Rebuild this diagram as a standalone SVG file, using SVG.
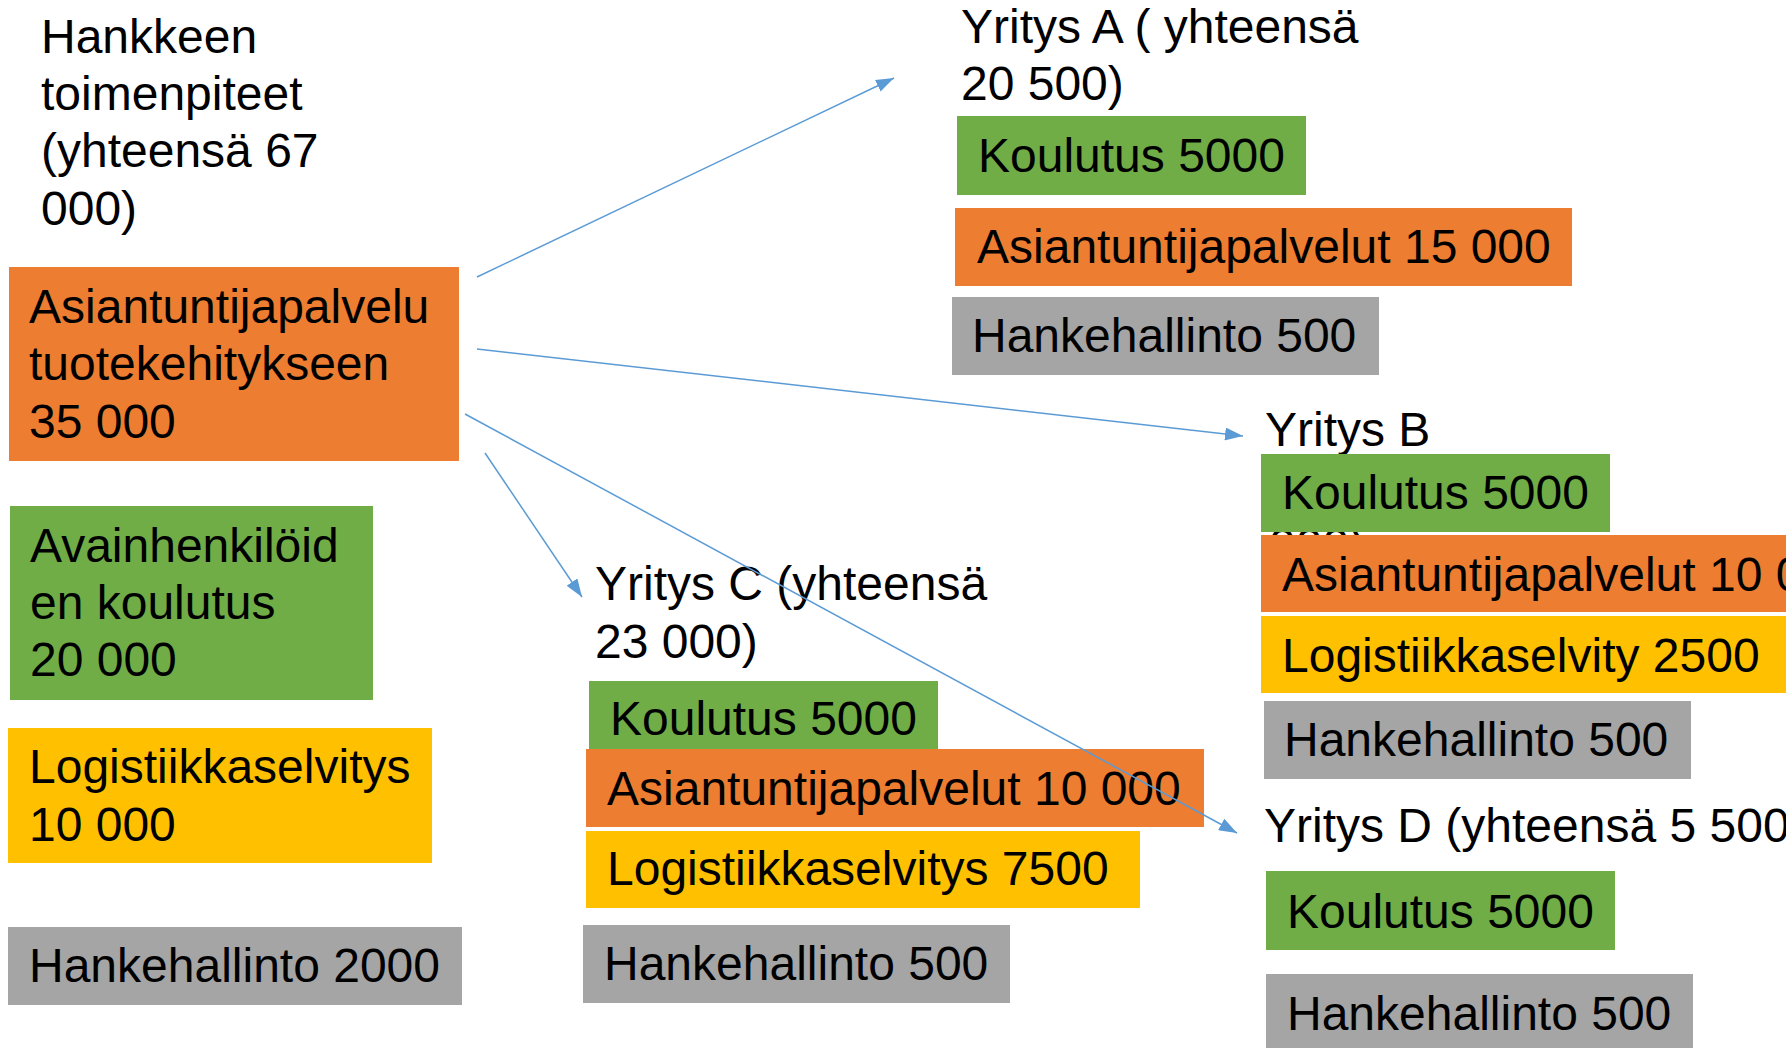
<svg xmlns="http://www.w3.org/2000/svg" width="1786" height="1048" viewBox="0 0 1786 1048">
<style>
text{font-family:"Liberation Sans",Arial,sans-serif;font-size:48px;fill:#000}
.o{fill:#ED7D31}.g{fill:#70AD47}.y{fill:#FFC000}.k{fill:#A5A5A5}
.c{stroke:#5B9BD5;stroke-width:1.5;fill:none;marker-end:url(#ah)}
</style>
<defs>
<marker id="ah" markerUnits="userSpaceOnUse" markerWidth="18" markerHeight="13" refX="18" refY="6.5" orient="auto">
<path d="M0,0 L18,6.5 L0,13 z" fill="#5B9BD5"/>
</marker>
</defs>
<rect width="1786" height="1048" fill="#fff"/>
<g id="title"><text x="41" y="53">Hankkeen</text><text x="41" y="110">toimenpiteet</text><text x="41" y="167">(yhteensä 67</text><text x="41" y="225">000)</text></g>
<g id="asiantuntija"><rect class="o" x="9" y="267" width="450" height="194"/><text x="29" y="323">Asiantuntijapalvelu</text><text x="29" y="380">tuotekehitykseen</text><text x="29" y="438">35 000</text></g>
<g id="avainhenkilo"><rect class="g" x="10" y="506" width="363" height="194"/><text x="30" y="562">Avainhenkilöid</text><text x="30" y="619">en koulutus</text><text x="30" y="676">20 000</text></g>
<g id="logistiikka"><rect class="y" x="8" y="728" width="424" height="135"/><text x="29" y="783">Logistiikkaselvitys</text><text x="29" y="841">10 000</text></g>
<g id="hankehallinto"><rect class="k" x="8" y="927" width="454" height="78"/><text x="29" y="982">Hankehallinto 2000</text></g>
<g id="yritysA"><text x="961" y="43">Yritys A ( yhteensä</text><text x="961" y="100">20 500)</text>
<rect class="g" x="957" y="116" width="349" height="79"/><text x="978" y="172">Koulutus 5000</text>
<rect class="o" x="955" y="208" width="617" height="78"/><text x="977" y="263">Asiantuntijapalvelut 15 000</text>
<rect class="k" x="952" y="297" width="427" height="78"/><text x="972" y="352">Hankehallinto 500</text></g>
<g id="yritysB"><text x="1265" y="446">Yritys B</text><text x="1269" y="562">000)</text>
<rect class="g" x="1261" y="454" width="349" height="78"/><text x="1282" y="509">Koulutus 5000</text>
<rect class="o" x="1261" y="535" width="530" height="77"/><text x="1282" y="591">Asiantuntijapalvelut 10 000</text>
<rect class="y" x="1261" y="616" width="530" height="77"/><text x="1282" y="672">Logistiikkaselvity 2500</text>
<rect class="k" x="1264" y="701" width="427" height="78"/><text x="1284" y="756">Hankehallinto 500</text></g>
<g id="yritysC"><text x="595" y="600">Yritys C (yhteensä</text><text x="595" y="658">23 000)</text>
<rect class="g" x="589" y="681" width="349" height="68"/><text x="610" y="735">Koulutus 5000</text>
<rect class="o" x="586" y="749" width="618" height="78"/><text x="607" y="805">Asiantuntijapalvelut 10 000</text>
<rect class="y" x="586" y="831" width="554" height="77"/><text x="607" y="885">Logistiikkaselvitys 7500</text>
<rect class="k" x="583" y="925" width="427" height="78"/><text x="604" y="980">Hankehallinto 500</text></g>
<g id="yritysD"><text x="1264" y="842">Yritys D (yhteensä 5 500)</text>
<rect class="g" x="1266" y="871" width="349" height="79"/><text x="1287" y="928">Koulutus 5000</text>
<rect class="k" x="1266" y="974" width="427" height="80"/><text x="1287" y="1030">Hankehallinto 500</text></g>
<g id="connectors">
<line class="c" x1="477" y1="277" x2="894" y2="78"/>
<line class="c" x1="477" y1="349" x2="1243" y2="436"/>
<line class="c" x1="485" y1="453" x2="582" y2="597"/>
<line class="c" x1="465" y1="414" x2="1237" y2="833"/>
</g>
</svg>
